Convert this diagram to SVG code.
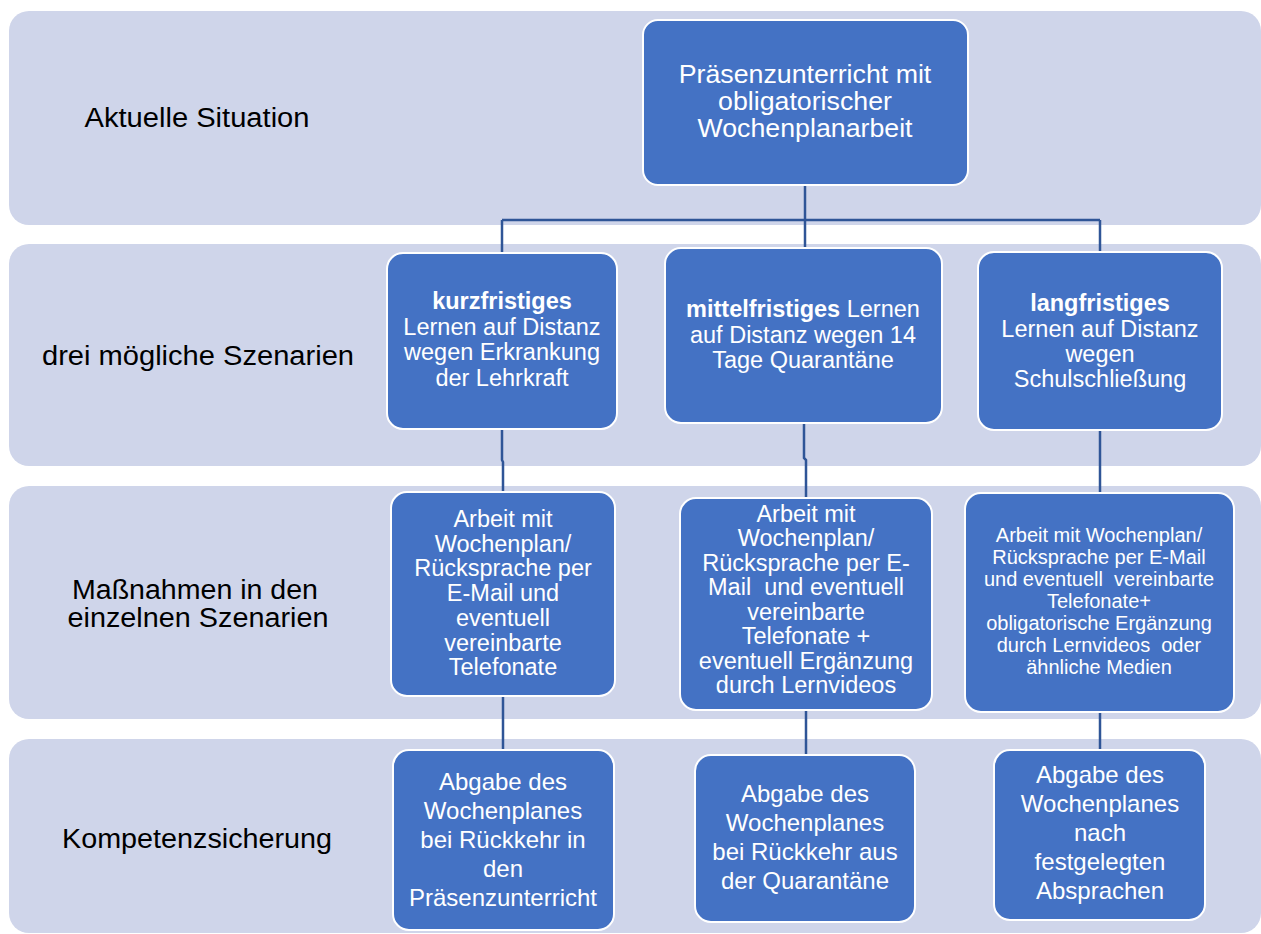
<svg xmlns="http://www.w3.org/2000/svg" width="1261" height="934" viewBox="0 0 1261 934">
<style>
.band{fill:#CFD5EA}
.box{fill:#4472C4;stroke:#ffffff;stroke-width:2}
.t{font-family:"Liberation Sans",Arial,sans-serif;fill:#ffffff;text-anchor:middle}
.lbl{font-family:"Liberation Sans",Arial,sans-serif;fill:#000000;font-size:27px;text-anchor:middle}
.con{stroke:#2F5597;stroke-width:2.5;fill:none}
.b{font-weight:bold}
</style>
<rect width="1261" height="934" fill="#ffffff"/>
<g id="bands">
<rect class="band" x="9" y="11" width="1252" height="214" rx="20"/>
<rect class="band" x="9" y="244" width="1252" height="222" rx="20"/>
<rect class="band" x="9" y="486" width="1252" height="233" rx="20"/>
<rect class="band" x="9" y="739" width="1252" height="194" rx="20"/>
</g>
<g id="labels">
<text class="lbl" x="197" y="127" textLength="225" lengthAdjust="spacingAndGlyphs">Aktuelle Situation</text>
<text class="lbl" x="198" y="365" textLength="312" lengthAdjust="spacingAndGlyphs">drei mögliche Szenarien</text>
<text class="lbl" x="195" y="599" textLength="246" lengthAdjust="spacingAndGlyphs">Maßnahmen in den</text>
<text class="lbl" x="198" y="627" textLength="261" lengthAdjust="spacingAndGlyphs">einzelnen Szenarien</text>
<text class="lbl" x="197" y="848" textLength="270" lengthAdjust="spacingAndGlyphs">Kompetenzsicherung</text>
</g>
<g id="connectors">
<path class="con" d="M805 185 V248"/>
<path class="con" d="M502 220 H1100"/>
<path class="con" d="M502 220 V253"/>
<path class="con" d="M1100 220 V252"/>
<path class="con" d="M502 429 V460 L503 462 V492"/>
<path class="con" d="M804 423 V458 L806 460 V498"/>
<path class="con" d="M1100 430 V493"/>
<path class="con" d="M503 696 V750"/>
<path class="con" d="M806 710 V755"/>
<path class="con" d="M1100 712 V750"/>
</g>
<g id="n-top">
<rect class="box" x="643" y="20" width="325" height="165" rx="15"/>
<g transform="translate(805 0) scale(1.07 1)">
<text class="t" x="0" y="83" font-size="25">Präsenzunterricht mit</text>
<text class="t" x="0" y="110" font-size="25">obligatorischer</text>
<text class="t" x="0" y="137" font-size="25">Wochenplanarbeit</text>
</g>
</g>
<g id="n-kurz">
<rect class="box" x="387" y="253" width="230" height="176" rx="16"/>
<text class="t b" x="502" y="309" font-size="23.5">kurzfristiges</text>
<text class="t" x="502" y="335" font-size="23.5">Lernen auf Distanz</text>
<text class="t" x="502" y="360" font-size="23.5">wegen Erkrankung</text>
<text class="t" x="502" y="386" font-size="23.5">der Lehrkraft</text>
</g>
<g id="n-mittel">
<rect class="box" x="665" y="248" width="277" height="175" rx="16"/>
<text class="t" x="803" y="317" font-size="23.5"><tspan class="b">mittelfristiges</tspan> Lernen</text>
<text class="t" x="803" y="343" font-size="23.5">auf Distanz wegen 14</text>
<text class="t" x="803" y="368" font-size="23.5">Tage Quarantäne</text>
</g>
<g id="n-lang">
<rect class="box" x="978" y="252" width="244" height="178" rx="16"/>
<text class="t b" x="1100" y="311" font-size="23.5">langfristiges</text>
<text class="t" x="1100" y="337" font-size="23.5">Lernen auf Distanz</text>
<text class="t" x="1100" y="362" font-size="23.5">wegen</text>
<text class="t" x="1100" y="387" font-size="23.5">Schulschließung</text>
</g>
<g id="m-kurz">
<rect class="box" x="391" y="492" width="224" height="204" rx="16"/>
<text class="t" x="503" y="527" font-size="23.5">Arbeit mit</text>
<text class="t" x="503" y="552" font-size="23.5">Wochenplan/</text>
<text class="t" x="503" y="576" font-size="23.5">Rücksprache per</text>
<text class="t" x="503" y="601" font-size="23.5">E-Mail und</text>
<text class="t" x="503" y="626" font-size="23.5">eventuell</text>
<text class="t" x="503" y="651" font-size="23.5">vereinbarte</text>
<text class="t" x="503" y="675" font-size="23.5">Telefonate</text>
</g>
<g id="m-mittel">
<rect class="box" x="680" y="498" width="252" height="212" rx="16"/>
<text class="t" x="806" y="522" font-size="23.5">Arbeit mit</text>
<text class="t" x="806" y="546" font-size="23.5">Wochenplan/</text>
<text class="t" x="806" y="571" font-size="23.5">Rücksprache per E-</text>
<text class="t" x="806" y="595" font-size="23.5" xml:space="preserve">Mail  und eventuell</text>
<text class="t" x="806" y="620" font-size="23.5">vereinbarte</text>
<text class="t" x="806" y="644" font-size="23.5">Telefonate +</text>
<text class="t" x="806" y="669" font-size="23.5">eventuell Ergänzung</text>
<text class="t" x="806" y="693" font-size="23.5">durch Lernvideos</text>
</g>
<g id="m-lang">
<rect class="box" x="965" y="493" width="269" height="219" rx="16"/>
<text class="t" x="1099" y="542" font-size="20">Arbeit mit Wochenplan/</text>
<text class="t" x="1099" y="564" font-size="20">Rücksprache per E-Mail</text>
<text class="t" x="1099" y="586" font-size="20" xml:space="preserve">und eventuell  vereinbarte</text>
<text class="t" x="1099" y="608" font-size="20">Telefonate+</text>
<text class="t" x="1099" y="630" font-size="20">obligatorische Ergänzung</text>
<text class="t" x="1099" y="652" font-size="20" xml:space="preserve">durch Lernvideos  oder</text>
<text class="t" x="1099" y="674" font-size="20">ähnliche Medien</text>
</g>
<g id="k-kurz">
<rect class="box" x="393" y="750" width="221" height="180" rx="16"/>
<text class="t" x="503" y="790" font-size="24">Abgabe des</text>
<text class="t" x="503" y="819" font-size="24">Wochenplanes</text>
<text class="t" x="503" y="848" font-size="24">bei Rückkehr in</text>
<text class="t" x="503" y="877" font-size="24">den</text>
<text class="t" x="503" y="906" font-size="24">Präsenzunterricht</text>
</g>
<g id="k-mittel">
<rect class="box" x="695" y="755" width="220" height="167" rx="16"/>
<text class="t" x="805" y="802" font-size="24">Abgabe des</text>
<text class="t" x="805" y="831" font-size="24">Wochenplanes</text>
<text class="t" x="805" y="860" font-size="24">bei Rückkehr aus</text>
<text class="t" x="805" y="889" font-size="24">der Quarantäne</text>
</g>
<g id="k-lang">
<rect class="box" x="994" y="750" width="211" height="170" rx="16"/>
<text class="t" x="1100" y="783" font-size="24">Abgabe des</text>
<text class="t" x="1100" y="812" font-size="24">Wochenplanes</text>
<text class="t" x="1100" y="841" font-size="24">nach</text>
<text class="t" x="1100" y="870" font-size="24">festgelegten</text>
<text class="t" x="1100" y="899" font-size="24">Absprachen</text>
</g>
</svg>
